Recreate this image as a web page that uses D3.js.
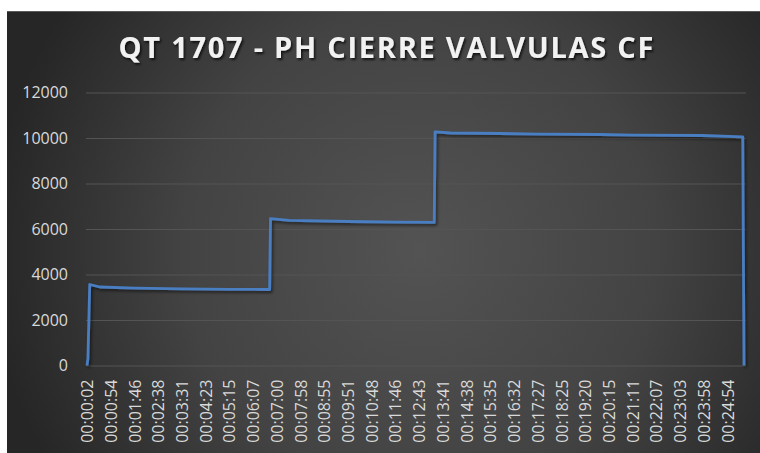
<!DOCTYPE html>
<html>
<head>
<meta charset="utf-8">
<script src="https://cdn.jsdelivr.net/npm/d3@7"></script>
<style>
  html, body { margin: 0; padding: 0; background: #ffffff; }
  svg { display: block; }
</style>
</head>
<body>
<svg id="chart" width="760" height="453"></svg>
<script>
// ---- Data ----
const chartTitle = "QT 1707 - PH CIERRE VALVULAS CF";
const xTickLabels = [
  "00:00:02","00:00:54","00:01:46","00:02:38","00:03:31","00:04:23","00:05:15",
  "00:06:07","00:07:00","00:07:58","00:08:55","00:09:51","00:10:48","00:11:46",
  "00:12:43","00:13:41","00:14:38","00:15:35","00:16:32","00:17:27","00:18:25",
  "00:19:20","00:20:15","00:21:11","00:22:07","00:23:03","00:23:58","00:24:54"
];
const yTicks = [0, 2000, 4000, 6000, 8000, 10000, 12000];
const sampleTimes = [
  "00:00:02","00:00:04","00:00:08","00:00:30","00:01:46","00:03:31","00:05:15","00:06:44",
  "00:06:46","00:07:30","00:09:51","00:11:46","00:13:20",
  "00:13:22","00:14:00","00:15:58","00:17:27","00:19:53","00:21:11","00:23:53","00:25:30",
  "00:25:33"
];
const sampleValues = [
  0, 300, 3560, 3450, 3400, 3370, 3350, 3340,
  6460, 6380, 6330, 6300, 6290,
  10270, 10220, 10198, 10170, 10154, 10130, 10110, 10053,
  0
];

// ---- Layout ----
const W = 760, H = 453;
const frame = { x: 7, y: 11, w: 753, h: 442 };
const plot = { left: 86, right: 746, top: 92.5, bottom: 365.5 };
const firstTickX = 87, lastTickX = 727.5;

const toSec = s => { const p = s.split(":").map(Number); return p[0]*3600 + p[1]*60 + p[2]; };

const svg = d3.select("#chart");
const defs = svg.append("defs");

const grad = defs.append("radialGradient")
  .attr("id", "bg").attr("gradientUnits", "userSpaceOnUse")
  .attr("cx", 420).attr("cy", 250).attr("r", 430);
grad.append("stop").attr("offset", "0%").attr("stop-color", "#535353");
grad.append("stop").attr("offset", "55%").attr("stop-color", "#434343");
grad.append("stop").attr("offset", "100%").attr("stop-color", "#262626");

const shadow = defs.append("filter").attr("id", "lineShadow")
  .attr("x", "-10%").attr("y", "-10%").attr("width", "120%").attr("height", "120%");
shadow.append("feDropShadow").attr("dx", 1.5).attr("dy", 2).attr("stdDeviation", 1.5)
  .attr("flood-color", "#000").attr("flood-opacity", 0.55);

const tshadow = defs.append("filter").attr("id", "textShadow")
  .attr("x", "-5%").attr("y", "-20%").attr("width", "110%").attr("height", "150%");
tshadow.append("feDropShadow").attr("dx", 1.5).attr("dy", 2).attr("stdDeviation", 1.2)
  .attr("flood-color", "#000").attr("flood-opacity", 0.7);

// background
svg.append("rect").attr("x", frame.x).attr("y", frame.y)
  .attr("width", frame.w).attr("height", frame.h).attr("fill", "url(#bg)");
svg.append("line").attr("x1", frame.x).attr("x2", W).attr("y1", frame.y + 0.5).attr("y2", frame.y + 0.5)
  .attr("stroke", "#5a5a5a").attr("stroke-width", 1);

// scales
const y = d3.scaleLinear().domain([0, 12000]).range([plot.bottom, plot.top]);
const tickIndex = d3.scaleLinear().domain([0, xTickLabels.length - 1]).range([firstTickX, lastTickX]);
const x = d3.scaleLinear()
  .domain(xTickLabels.map(toSec))
  .range(xTickLabels.map((_, i) => tickIndex(i)));

// gridlines
const yAxis = d3.axisLeft(y).tickValues(yTicks).tickSize(-(plot.right - plot.left)).tickPadding(18)
  .tickFormat(d3.format("d"));
const gy = svg.append("g").attr("transform", `translate(${plot.left},0)`).call(yAxis);
gy.select(".domain").remove();
gy.selectAll(".tick line").attr("stroke", "#545454").attr("stroke-width", 1);
gy.selectAll(".tick text").attr("fill", "#d9d9d9")
  .style("font-family", "'Open Sans', sans-serif").style("font-size", "16px");

// x axis labels
const xAxis = d3.axisBottom(x).tickValues(xTickLabels.map(toSec)).tickSize(0).tickPadding(0)
  .tickFormat((d, i) => xTickLabels[i]);
const gx = svg.append("g").attr("transform", `translate(0,${plot.bottom})`).call(xAxis);
gx.select(".domain").remove();
gx.selectAll(".tick text")
  .attr("fill", "#d9d9d9")
  .style("font-family", "'Open Sans', sans-serif").style("font-size", "16px")
  .attr("text-anchor", "end")
  .attr("transform", "rotate(-90)")
  .attr("x", -14).attr("y", 0).attr("dy", "0.35em");

// line
const line = d3.line()
  .x((d, i) => x(toSec(sampleTimes[i])))
  .y(d => y(d));
svg.append("path").datum(sampleValues)
  .attr("d", line)
  .attr("fill", "none")
  .attr("stroke", "#4a7ec2")
  .attr("stroke-width", 2.8)
  .attr("stroke-linejoin", "round")
  .attr("filter", "url(#lineShadow)");

// title
svg.append("text")
  .attr("x", 386).attr("y", 58)
  .attr("text-anchor", "middle")
  .attr("fill", "#f2f2f2")
  .attr("filter", "url(#textShadow)")
  .style("font-family", "'Open Sans', sans-serif")
  .style("font-weight", "700")
  .style("font-size", "29px")
  .attr("textLength", 535)
  .attr("lengthAdjust", "spacing")
  .text(chartTitle);
</script>
</body>
</html>
